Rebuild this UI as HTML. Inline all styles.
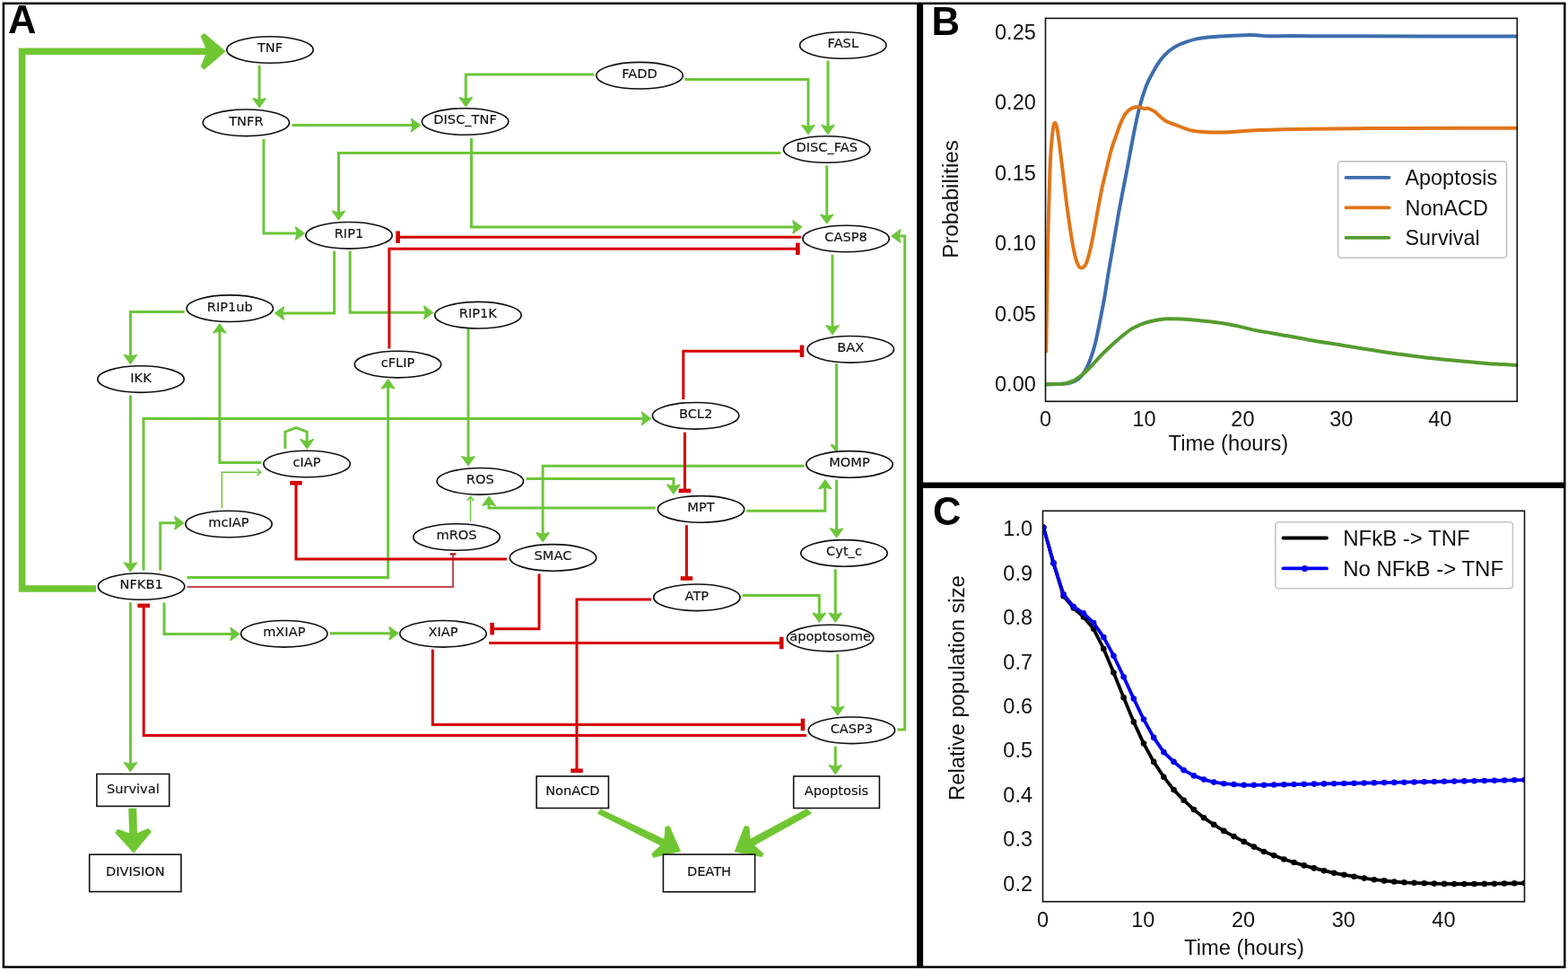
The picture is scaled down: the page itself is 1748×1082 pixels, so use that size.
<!DOCTYPE html>
<html><head><meta charset="utf-8"><title>Figure</title>
<style>
html,body{margin:0;padding:0;background:#fff;}
svg{display:block;}
.n{font-family:"DejaVu Sans","Liberation Sans",sans-serif;font-size:14.6px;fill:#111;stroke:#111;stroke-width:0.15px;text-anchor:middle;}
.tk{font-family:"Liberation Sans",Arial,sans-serif;font-size:23.5px;fill:#111;}
.pl{font-family:"Liberation Sans",Arial,sans-serif;font-size:43.5px;font-weight:bold;fill:#000;}
</style></head>
<body>
<svg width="1748" height="1082" viewBox="0 0 1748 1082">
<rect x="0" y="0" width="1748" height="1082" fill="#fff"/>
<polyline points="107,656 24.6,656 24.6,57.3 231,57.3" fill="none" stroke="#70c632" stroke-width="7.6" stroke-linejoin="miter"/>
<polygon points="251.3,57.3 227.6,37.2 223.9,40.3 229.3,53.3 229.3,61.3 223.9,74.3 227.6,77.4" fill="#70c632" stroke="#70c632" stroke-width="0.6" stroke-linejoin="round"/>
<polyline points="289.1,73 289.1,112.1" fill="none" stroke="#6cc63a" stroke-width="3" stroke-linejoin="miter" stroke-linecap="butt"/>
<polygon points="289.1,119.6 281.9,109.6 289.1,111.6 296.3,109.6" fill="#6cc63a" stroke="#6cc63a" stroke-width="1.2" stroke-linejoin="round"/>
<polyline points="325.4,139.5 460.9,139.5" fill="none" stroke="#6cc63a" stroke-width="3" stroke-linejoin="miter" stroke-linecap="butt"/>
<polygon points="468.4,139.5 458.4,146.7 460.4,139.5 458.4,132.3" fill="#6cc63a" stroke="#6cc63a" stroke-width="1.2" stroke-linejoin="round"/>
<polyline points="662.1,83.1 519.3,83.1 519.3,111.1" fill="none" stroke="#6cc63a" stroke-width="3" stroke-linejoin="miter" stroke-linecap="butt"/>
<polygon points="519.3,118.6 512.1,108.6 519.3,110.6 526.5,108.6" fill="#6cc63a" stroke="#6cc63a" stroke-width="1.2" stroke-linejoin="round"/>
<polyline points="763.3,88.4 901,88.4 901,141.9" fill="none" stroke="#6cc63a" stroke-width="3" stroke-linejoin="miter" stroke-linecap="butt"/>
<polygon points="901,149.4 893.8,139.4 901,141.4 908.2,139.4" fill="#6cc63a" stroke="#6cc63a" stroke-width="1.2" stroke-linejoin="round"/>
<polyline points="923,67.6 923,141.9" fill="none" stroke="#6cc63a" stroke-width="3" stroke-linejoin="miter" stroke-linecap="butt"/>
<polygon points="923,149.4 915.8,139.4 923,141.4 930.2,139.4" fill="#6cc63a" stroke="#6cc63a" stroke-width="1.2" stroke-linejoin="round"/>
<polyline points="870.4,170.4 377.5,170.4 377.5,237.5" fill="none" stroke="#6cc63a" stroke-width="3" stroke-linejoin="miter" stroke-linecap="butt"/>
<polygon points="377.5,245 370.3,235 377.5,237 384.7,235" fill="#6cc63a" stroke="#6cc63a" stroke-width="1.2" stroke-linejoin="round"/>
<polyline points="294,155 294,260 331.8,260" fill="none" stroke="#6cc63a" stroke-width="3" stroke-linejoin="miter" stroke-linecap="butt"/>
<polygon points="339.3,260 329.3,267.2 331.3,260 329.3,252.8" fill="#6cc63a" stroke="#6cc63a" stroke-width="1.2" stroke-linejoin="round"/>
<polyline points="525.5,153.9 525.5,253 886.3,253" fill="none" stroke="#6cc63a" stroke-width="3" stroke-linejoin="miter" stroke-linecap="butt"/>
<polygon points="893.8,253 883.8,260.2 885.8,253 883.8,245.8" fill="#6cc63a" stroke="#6cc63a" stroke-width="1.2" stroke-linejoin="round"/>
<polyline points="921.8,184.3 921.8,241.5" fill="none" stroke="#6cc63a" stroke-width="3" stroke-linejoin="miter" stroke-linecap="butt"/>
<polygon points="921.8,249 914.6,239 921.8,241 929,239" fill="#6cc63a" stroke="#6cc63a" stroke-width="1.2" stroke-linejoin="round"/>
<polyline points="372.7,279.7 372.7,349 314.1,349" fill="none" stroke="#6cc63a" stroke-width="3" stroke-linejoin="miter" stroke-linecap="butt"/>
<polygon points="306.6,349 316.6,341.8 314.6,349 316.6,356.2" fill="#6cc63a" stroke="#6cc63a" stroke-width="1.2" stroke-linejoin="round"/>
<polyline points="390.2,279.7 390.2,348.2 475.1,348.2" fill="none" stroke="#6cc63a" stroke-width="3" stroke-linejoin="miter" stroke-linecap="butt"/>
<polygon points="482.6,348.2 472.6,355.4 474.6,348.2 472.6,341" fill="#6cc63a" stroke="#6cc63a" stroke-width="1.2" stroke-linejoin="round"/>
<polyline points="205.7,347.5 145.4,347.5 145.4,397.9" fill="none" stroke="#6cc63a" stroke-width="3" stroke-linejoin="miter" stroke-linecap="butt"/>
<polygon points="145.4,405.4 138.2,395.4 145.4,397.4 152.6,395.4" fill="#6cc63a" stroke="#6cc63a" stroke-width="1.2" stroke-linejoin="round"/>
<polyline points="928,283.9 928,365.1" fill="none" stroke="#6cc63a" stroke-width="3" stroke-linejoin="miter" stroke-linecap="butt"/>
<polygon points="928,372.6 920.8,362.6 928,364.6 935.2,362.6" fill="#6cc63a" stroke="#6cc63a" stroke-width="1.2" stroke-linejoin="round"/>
<polyline points="1000.5,813.1 1008.7,813.1 1008.7,263 1001.5,263" fill="none" stroke="#6cc63a" stroke-width="3" stroke-linejoin="miter" stroke-linecap="butt"/>
<polygon points="994,263 1004,255.8 1002,263 1004,270.2" fill="#6cc63a" stroke="#6cc63a" stroke-width="1.2" stroke-linejoin="round"/>
<polyline points="145.4,440.5 145.4,629.3" fill="none" stroke="#6cc63a" stroke-width="3" stroke-linejoin="miter" stroke-linecap="butt"/>
<polygon points="145.4,636.8 138.2,626.8 145.4,628.8 152.6,626.8" fill="#6cc63a" stroke="#6cc63a" stroke-width="1.2" stroke-linejoin="round"/>
<polyline points="160,635.6 160,466.4 717.9,466.4" fill="none" stroke="#6cc63a" stroke-width="3" stroke-linejoin="miter" stroke-linecap="butt"/>
<polygon points="725.4,466.4 715.4,473.6 717.4,466.4 715.4,459.2" fill="#6cc63a" stroke="#6cc63a" stroke-width="1.2" stroke-linejoin="round"/>
<polyline points="291.4,515.5 244.9,515.5 244.9,368.5" fill="none" stroke="#6cc63a" stroke-width="3" stroke-linejoin="miter" stroke-linecap="butt"/>
<polygon points="244.9,361 252.1,371 244.9,369 237.7,371" fill="#6cc63a" stroke="#6cc63a" stroke-width="1.2" stroke-linejoin="round"/>
<polyline points="178.7,635.6 178.7,582.7 197.3,582.7" fill="none" stroke="#6cc63a" stroke-width="3" stroke-linejoin="miter" stroke-linecap="butt"/>
<polygon points="204.8,582.7 194.8,589.9 196.8,582.7 194.8,575.5" fill="#6cc63a" stroke="#6cc63a" stroke-width="1.2" stroke-linejoin="round"/>
<polyline points="208.5,643.4 432.6,643.4 432.6,430.4" fill="none" stroke="#6cc63a" stroke-width="3" stroke-linejoin="miter" stroke-linecap="butt"/>
<polygon points="432.6,422.9 439.8,432.9 432.6,430.9 425.4,432.9" fill="#6cc63a" stroke="#6cc63a" stroke-width="1.2" stroke-linejoin="round"/>
<polyline points="522,366 522,511.1" fill="none" stroke="#6cc63a" stroke-width="3" stroke-linejoin="miter" stroke-linecap="butt"/>
<polygon points="522,518.6 514.8,508.6 522,510.6 529.2,508.6" fill="#6cc63a" stroke="#6cc63a" stroke-width="1.2" stroke-linejoin="round"/>
<polyline points="586.6,533.6 750.9,533.6 750.9,542.7" fill="none" stroke="#6cc63a" stroke-width="3" stroke-linejoin="miter" stroke-linecap="butt"/>
<polygon points="750.9,550.2 743.7,540.2 750.9,542.2 758.1,540.2" fill="#6cc63a" stroke="#6cc63a" stroke-width="1.2" stroke-linejoin="round"/>
<polyline points="730.7,566 545,566 545,560.9" fill="none" stroke="#6cc63a" stroke-width="3" stroke-linejoin="miter" stroke-linecap="butt"/>
<polygon points="545,553.4 552.2,563.4 545,561.4 537.8,563.4" fill="#6cc63a" stroke="#6cc63a" stroke-width="1.2" stroke-linejoin="round"/>
<polyline points="832.3,569.2 919.8,569.2 919.8,542.3" fill="none" stroke="#6cc63a" stroke-width="3" stroke-linejoin="miter" stroke-linecap="butt"/>
<polygon points="919.8,534.8 927,544.8 919.8,542.8 912.6,544.8" fill="#6cc63a" stroke="#6cc63a" stroke-width="1.2" stroke-linejoin="round"/>
<polyline points="896.4,519.2 605.1,519.2 605.1,596.1" fill="none" stroke="#6cc63a" stroke-width="3" stroke-linejoin="miter" stroke-linecap="butt"/>
<polygon points="605.1,603.6 597.9,593.6 605.1,595.6 612.3,593.6" fill="#6cc63a" stroke="#6cc63a" stroke-width="1.2" stroke-linejoin="round"/>
<polyline points="932.6,534.6 932.6,591.3" fill="none" stroke="#6cc63a" stroke-width="3" stroke-linejoin="miter" stroke-linecap="butt"/>
<polygon points="932.6,598.8 925.4,588.8 932.6,590.8 939.8,588.8" fill="#6cc63a" stroke="#6cc63a" stroke-width="1.2" stroke-linejoin="round"/>
<polyline points="145.4,671.4 145.4,852.1" fill="none" stroke="#6cc63a" stroke-width="3" stroke-linejoin="miter" stroke-linecap="butt"/>
<polygon points="145.4,859.6 138.2,849.6 145.4,851.6 152.6,849.6" fill="#6cc63a" stroke="#6cc63a" stroke-width="1.2" stroke-linejoin="round"/>
<polyline points="183,671.4 183,706.5 259.3,706.5" fill="none" stroke="#6cc63a" stroke-width="3" stroke-linejoin="miter" stroke-linecap="butt"/>
<polygon points="266.8,706.5 256.8,713.7 258.8,706.5 256.8,699.3" fill="#6cc63a" stroke="#6cc63a" stroke-width="1.2" stroke-linejoin="round"/>
<polyline points="367.8,705.7 436.4,705.7" fill="none" stroke="#6cc63a" stroke-width="3" stroke-linejoin="miter" stroke-linecap="butt"/>
<polygon points="443.9,705.7 433.9,712.9 435.9,705.7 433.9,698.5" fill="#6cc63a" stroke="#6cc63a" stroke-width="1.2" stroke-linejoin="round"/>
<polyline points="827.5,663.5 913.3,663.5 913.3,685.7" fill="none" stroke="#6cc63a" stroke-width="3" stroke-linejoin="miter" stroke-linecap="butt"/>
<polygon points="913.3,693.2 906.1,683.2 913.3,685.2 920.5,683.2" fill="#6cc63a" stroke="#6cc63a" stroke-width="1.2" stroke-linejoin="round"/>
<polyline points="931.3,634.3 931.3,685.7" fill="none" stroke="#6cc63a" stroke-width="3" stroke-linejoin="miter" stroke-linecap="butt"/>
<polygon points="931.3,693.2 924.1,683.2 931.3,685.2 938.5,683.2" fill="#6cc63a" stroke="#6cc63a" stroke-width="1.2" stroke-linejoin="round"/>
<polyline points="933.9,728.7 933.9,789.5" fill="none" stroke="#6cc63a" stroke-width="3" stroke-linejoin="miter" stroke-linecap="butt"/>
<polygon points="933.9,797 926.7,787 933.9,789 941.1,787" fill="#6cc63a" stroke="#6cc63a" stroke-width="1.2" stroke-linejoin="round"/>
<polyline points="931.3,831.7 931.3,855" fill="none" stroke="#6cc63a" stroke-width="3" stroke-linejoin="miter" stroke-linecap="butt"/>
<polygon points="931.3,862.5 924.1,852.5 931.3,854.5 938.5,852.5" fill="#6cc63a" stroke="#6cc63a" stroke-width="1.2" stroke-linejoin="round"/>
<polyline points="317.9,500 317.9,481.2 330,476.5 342.2,481.2 342.2,493.1" fill="none" stroke="#6cc63a" stroke-width="3" stroke-linejoin="miter" stroke-linecap="butt"/>
<polygon points="342.2,499.9 334.8,489.4 342.2,492.6 349.6,489.4" fill="#6cc63a" stroke="#6cc63a" stroke-width="1.2" stroke-linejoin="round"/>
<line x1="932.6" y1="405" x2="932.6" y2="502" stroke="#6cc63a" stroke-width="3"/>
<polygon points="932.4,503 926.4,496.2 927.6,495.2 933.6,499.5" fill="#6cc63a" stroke="#6cc63a" stroke-width="1.2" stroke-linejoin="round"/>
<polyline points="247.4,566.3 247.4,526.3 290.6,526.3" fill="none" stroke="#6cc63a" stroke-width="1.5"/>
<polyline points="286.4,522.6 290.8,526.3 286.4,530" fill="none" stroke="#6cc63a" stroke-width="1.6" stroke-linejoin="miter"/>
<line x1="524.5" y1="581.1" x2="524.5" y2="553.8" stroke="#6cc63a" stroke-width="1.5"/>
<polyline points="520.7,557.9 524.5,553.5 528.3,557.9" fill="none" stroke="#6cc63a" stroke-width="1.6" stroke-linejoin="miter"/>
<polyline points="893,264.2 443.6,264.2" fill="none" stroke="#d40000" stroke-width="3" stroke-linejoin="miter" stroke-linecap="butt"/>
<rect x="441.3" y="257.45" width="4.6" height="13.5" fill="#d40000"/>
<polyline points="433.9,388.6 433.9,277.3 889.4,277.3" fill="none" stroke="#d40000" stroke-width="3" stroke-linejoin="miter" stroke-linecap="butt"/>
<rect x="887.1" y="270.55" width="4.6" height="13.5" fill="#d40000"/>
<polyline points="761.8,444.9 761.8,391.3 894,391.3" fill="none" stroke="#d40000" stroke-width="3" stroke-linejoin="miter" stroke-linecap="butt"/>
<rect x="891.7" y="384.55" width="4.6" height="13.5" fill="#d40000"/>
<polyline points="763.4,481.7 763.4,546.9" fill="none" stroke="#d40000" stroke-width="3" stroke-linejoin="miter" stroke-linecap="butt"/>
<rect x="756.65" y="544.6" width="13.5" height="4.6" fill="#d40000"/>
<polyline points="565,622.9 330,622.9 330,538.2" fill="none" stroke="#d40000" stroke-width="3" stroke-linejoin="miter" stroke-linecap="butt"/>
<rect x="323.25" y="535.9" width="13.5" height="4.6" fill="#d40000"/>
<polyline points="765.4,585.2 765.4,644.5" fill="none" stroke="#d40000" stroke-width="3" stroke-linejoin="miter" stroke-linecap="butt"/>
<rect x="758.65" y="642.2" width="13.5" height="4.6" fill="#d40000"/>
<polyline points="601,639.5 601,700.7 548.6,700.7" fill="none" stroke="#d40000" stroke-width="3" stroke-linejoin="miter" stroke-linecap="butt"/>
<rect x="546.3" y="693.95" width="4.6" height="13.5" fill="#d40000"/>
<polyline points="545.2,716.5 871.2,716.5" fill="none" stroke="#d40000" stroke-width="3" stroke-linejoin="miter" stroke-linecap="butt"/>
<rect x="868.9" y="709.75" width="4.6" height="13.5" fill="#d40000"/>
<polyline points="726,668.1 643,668.1 643,858.8" fill="none" stroke="#d40000" stroke-width="3" stroke-linejoin="miter" stroke-linecap="butt"/>
<rect x="636.25" y="856.5" width="13.5" height="4.6" fill="#d40000"/>
<polyline points="482.3,723.6 482.3,807.5 895,807.5" fill="none" stroke="#d40000" stroke-width="3" stroke-linejoin="miter" stroke-linecap="butt"/>
<rect x="892.7" y="800.75" width="4.6" height="13.5" fill="#d40000"/>
<polyline points="899,819.4 160.2,819.4 160.2,674.9" fill="none" stroke="#d40000" stroke-width="3" stroke-linejoin="miter" stroke-linecap="butt"/>
<rect x="153.45" y="672.6" width="13.5" height="4.6" fill="#d40000"/>
<polyline points="208.5,653.9 505,653.9 505,617.4" fill="none" stroke="#b0101a" stroke-width="1.5" stroke-linejoin="miter" stroke-linecap="butt"/>
<rect x="501.7" y="616.25" width="6.6" height="2.3" fill="#b0101a"/>
<polygon points="143.6,901 151.9,901 152.7,928.6 165.5,923.3 168.5,926.9 149.1,950.4 128.6,928 131.4,924.1 144.4,928.8" fill="#70c632" stroke="#70c632" stroke-width="0.6" stroke-linejoin="round"/>
<polygon points="669.6,901.8 740.6,935.3 741.8,921.4 746.2,920.5 758.6,948.6 728.6,955.4 726.4,951.6 736.5,942.2 666.2,906.4" fill="#70c632" stroke="#70c632" stroke-width="0.6" stroke-linejoin="round"/>
<polygon points="899.1,901.6 836.4,935 834.9,921.1 830.1,920.5 819,948.9 849.6,954.8 851.2,951.3 840.8,941.9 905,906.3" fill="#70c632" stroke="#70c632" stroke-width="0.6" stroke-linejoin="round"/>
<ellipse cx="301" cy="55.5" rx="48.2" ry="14.8" fill="#fff" stroke="#111111" stroke-width="1.6"/>
<text x="301" y="58.4" class="n">TNF</text>
<ellipse cx="274.4" cy="136.8" rx="48.2" ry="14.8" fill="#fff" stroke="#111111" stroke-width="1.6"/>
<text x="274.4" y="139.7" class="n">TNFR</text>
<ellipse cx="518.6" cy="135.5" rx="48.2" ry="14.8" fill="#fff" stroke="#111111" stroke-width="1.6"/>
<text x="518.6" y="138.4" class="n">DISC_TNF</text>
<ellipse cx="713" cy="84.2" rx="48.2" ry="14.8" fill="#fff" stroke="#111111" stroke-width="1.6"/>
<text x="713" y="87.1" class="n">FADD</text>
<ellipse cx="939.8" cy="50.5" rx="48.2" ry="14.8" fill="#fff" stroke="#111111" stroke-width="1.6"/>
<text x="939.8" y="53.4" class="n">FASL</text>
<ellipse cx="921.7" cy="166.5" rx="48.2" ry="14.8" fill="#fff" stroke="#111111" stroke-width="1.6"/>
<text x="921.7" y="169.4" class="n">DISC_FAS</text>
<ellipse cx="389" cy="262.3" rx="48.2" ry="14.8" fill="#fff" stroke="#111111" stroke-width="1.6"/>
<text x="389" y="265.2" class="n">RIP1</text>
<ellipse cx="943.1" cy="266" rx="48.2" ry="14.8" fill="#fff" stroke="#111111" stroke-width="1.6"/>
<text x="943.1" y="268.9" class="n">CASP8</text>
<ellipse cx="256.3" cy="343.7" rx="48.2" ry="14.8" fill="#fff" stroke="#111111" stroke-width="1.6"/>
<text x="256.3" y="346.6" class="n">RIP1ub</text>
<ellipse cx="532.9" cy="351.2" rx="48.2" ry="14.8" fill="#fff" stroke="#111111" stroke-width="1.6"/>
<text x="532.9" y="354.1" class="n">RIP1K</text>
<ellipse cx="948.3" cy="389.3" rx="48.2" ry="14.8" fill="#fff" stroke="#111111" stroke-width="1.6"/>
<text x="948.3" y="392.2" class="n">BAX</text>
<ellipse cx="443.5" cy="406.1" rx="48.2" ry="14.8" fill="#fff" stroke="#111111" stroke-width="1.6"/>
<text x="443.5" y="409" class="n">cFLIP</text>
<ellipse cx="157" cy="422.6" rx="48.2" ry="14.8" fill="#fff" stroke="#111111" stroke-width="1.6"/>
<text x="157" y="425.5" class="n">IKK</text>
<ellipse cx="775.6" cy="463.3" rx="48.2" ry="14.8" fill="#fff" stroke="#111111" stroke-width="1.6"/>
<text x="775.6" y="466.2" class="n">BCL2</text>
<ellipse cx="342.1" cy="517" rx="48.2" ry="14.8" fill="#fff" stroke="#111111" stroke-width="1.6"/>
<text x="342.1" y="519.9" class="n">cIAP</text>
<ellipse cx="535.3" cy="536.3" rx="48.2" ry="14.8" fill="#fff" stroke="#111111" stroke-width="1.6"/>
<text x="535.3" y="539.2" class="n">ROS</text>
<ellipse cx="947" cy="517.4" rx="48.2" ry="14.8" fill="#fff" stroke="#111111" stroke-width="1.6"/>
<text x="947" y="520.3" class="n">MOMP</text>
<ellipse cx="781.5" cy="567.4" rx="48.2" ry="14.8" fill="#fff" stroke="#111111" stroke-width="1.6"/>
<text x="781.5" y="570.3" class="n">MPT</text>
<ellipse cx="255" cy="584" rx="48.2" ry="14.8" fill="#fff" stroke="#111111" stroke-width="1.6"/>
<text x="255" y="586.9" class="n">mcIAP</text>
<ellipse cx="509" cy="598.5" rx="48.2" ry="14.8" fill="#fff" stroke="#111111" stroke-width="1.6"/>
<text x="509" y="601.4" class="n">mROS</text>
<ellipse cx="616.5" cy="621.4" rx="48.2" ry="14.8" fill="#fff" stroke="#111111" stroke-width="1.6"/>
<text x="616.5" y="624.3" class="n">SMAC</text>
<ellipse cx="941" cy="616.4" rx="48.2" ry="14.8" fill="#fff" stroke="#111111" stroke-width="1.6"/>
<text x="941" y="619.3" class="n">Cyt_c</text>
<ellipse cx="157.6" cy="653.5" rx="48.2" ry="14.8" fill="#fff" stroke="#111111" stroke-width="1.6"/>
<text x="157.6" y="656.4" class="n">NFKB1</text>
<ellipse cx="776.9" cy="665.8" rx="48.2" ry="14.8" fill="#fff" stroke="#111111" stroke-width="1.6"/>
<text x="776.9" y="668.7" class="n">ATP</text>
<ellipse cx="316.8" cy="706.3" rx="48.2" ry="14.8" fill="#fff" stroke="#111111" stroke-width="1.6"/>
<text x="316.8" y="709.2" class="n">mXIAP</text>
<ellipse cx="494" cy="706.3" rx="48.2" ry="14.8" fill="#fff" stroke="#111111" stroke-width="1.6"/>
<text x="494" y="709.2" class="n">XIAP</text>
<ellipse cx="925.6" cy="711.1" rx="48.2" ry="14.8" fill="#fff" stroke="#111111" stroke-width="1.6"/>
<text x="925.6" y="714" class="n">apoptosome</text>
<ellipse cx="949.4" cy="813.8" rx="48.2" ry="14.8" fill="#fff" stroke="#111111" stroke-width="1.6"/>
<text x="949.4" y="816.7" class="n">CASP3</text>
<rect x="107.9" y="862.5" width="80.8" height="35.9" fill="#fff" stroke="#111111" stroke-width="1.6"/>
<text x="148.3" y="884.3" class="n">Survival</text>
<rect x="99.7" y="952.2" width="102.2" height="41.4" fill="#fff" stroke="#111111" stroke-width="1.6"/>
<text x="150.8" y="976.3" class="n">DIVISION</text>
<rect x="598.1" y="865" width="80.3" height="35.5" fill="#fff" stroke="#111111" stroke-width="1.6"/>
<text x="638.25" y="886.4" class="n">NonACD</text>
<rect x="884.7" y="865" width="95.7" height="35.5" fill="#fff" stroke="#111111" stroke-width="1.6"/>
<text x="932.55" y="886.4" class="n">Apoptosis</text>
<rect x="739.4" y="952.1" width="102.2" height="41.7" fill="#fff" stroke="#111111" stroke-width="1.6"/>
<text x="790.5" y="976.2" class="n">DEATH</text>
<defs><clipPath id="cb"><rect x="1165.5" y="20" width="526" height="427"/></clipPath><clipPath id="cc"><rect x="1162.5" y="569" width="537.5" height="436"/></clipPath></defs>
<g clip-path="url(#cb)" fill="none" stroke-width="4" stroke-linejoin="round" stroke-linecap="round">
<path d="M1165.8,428.2 C1167.83,428.17 1174.57,428.1 1178,428 C1181.43,427.9 1183.9,427.85 1186.4,427.6 C1188.9,427.35 1190.62,427.23 1193,426.5 C1195.38,425.77 1198.53,424.53 1200.7,423.2 C1202.87,421.87 1204.32,420.5 1206,418.5 C1207.68,416.5 1209.13,414.45 1210.8,411.2 C1212.47,407.95 1214.3,403.75 1216,399 C1217.7,394.25 1219.33,389.37 1221,382.7 C1222.67,376.03 1224.3,367.47 1226,359 C1227.7,350.53 1229.53,341.4 1231.2,331.9 C1232.87,322.4 1234.3,312.18 1236,302 C1237.7,291.82 1239.67,280.97 1241.4,270.8 C1243.13,260.63 1244.72,250.47 1246.4,241 C1248.08,231.53 1249.63,223.72 1251.5,214 C1253.37,204.28 1255.6,193.2 1257.6,182.7 C1259.6,172.2 1261.47,161.17 1263.5,151 C1265.53,140.83 1267.38,130.98 1269.8,121.7 C1272.22,112.42 1275.28,102.42 1278,95.3 C1280.72,88.18 1283.43,83.8 1286.1,79 C1288.77,74.2 1291.28,70.08 1294,66.5 C1296.72,62.92 1299.4,60.08 1302.4,57.5 C1305.4,54.92 1308.62,52.82 1312,51 C1315.38,49.18 1319.03,47.87 1322.7,46.6 C1326.37,45.33 1329.93,44.27 1334,43.4 C1338.07,42.53 1341.1,41.97 1347.1,41.4 C1353.1,40.83 1362.2,40.42 1370,40 C1377.8,39.58 1388.23,38.97 1393.9,38.9 C1399.57,38.83 1400.62,39.37 1404,39.6 C1407.38,39.83 1408.87,40.22 1414.2,40.3 C1419.53,40.38 1428.37,40.12 1436,40.1 C1443.63,40.08 1446,40.17 1460,40.2 C1474,40.23 1496.67,40.25 1520,40.3 C1543.33,40.35 1571.5,40.45 1600,40.5 C1628.5,40.55 1675.83,40.58 1691,40.6" stroke="#3e6dae"/>
<path d="M1166.2,391.5 C1166.4,379.5 1167.07,339.75 1167.4,319.5 C1167.73,299.25 1167.9,284.77 1168.2,270 C1168.5,255.23 1168.72,246.67 1169.2,230.9 C1169.68,215.13 1170.32,189.88 1171.1,175.4 C1171.88,160.92 1173.03,150.4 1173.9,144 C1174.77,137.6 1175.42,136.42 1176.3,137 C1177.18,137.58 1177.92,139.55 1179.2,147.5 C1180.48,155.45 1182.27,170.8 1184,184.7 C1185.73,198.6 1187.6,216.13 1189.6,230.9 C1191.6,245.67 1194.17,263.07 1196,273.3 C1197.83,283.53 1199.07,288.08 1200.6,292.3 C1202.13,296.52 1203.45,298.48 1205.2,298.6 C1206.95,298.72 1209.2,297.32 1211.1,293 C1213,288.68 1214.75,281.03 1216.6,272.7 C1218.45,264.37 1220.35,252.87 1222.2,243 C1224.05,233.13 1225.85,222.42 1227.7,213.5 C1229.55,204.58 1231.45,197.2 1233.3,189.5 C1235.15,181.8 1236.95,173.77 1238.8,167.3 C1240.65,160.83 1242.55,155.93 1244.4,150.7 C1246.25,145.47 1248.05,140.07 1249.9,135.9 C1251.75,131.73 1253.35,128.32 1255.5,125.7 C1257.65,123.08 1260.35,121.28 1262.8,120.2 C1265.25,119.12 1268.03,119.02 1270.2,119.2 C1272.37,119.38 1274.25,121.07 1275.8,121.3 C1277.35,121.53 1277.65,120.12 1279.5,120.6 C1281.35,121.08 1284.65,122.72 1286.9,124.2 C1289.15,125.68 1290.82,127.7 1293,129.5 C1295.18,131.3 1296.5,133.17 1300,135 C1303.5,136.83 1309.53,138.82 1314,140.5 C1318.47,142.18 1321.97,144 1326.8,145.1 C1331.63,146.2 1336.9,146.7 1343,147.1 C1349.1,147.5 1353.23,147.83 1363.4,147.5 C1373.57,147.17 1387.9,145.73 1404,145.1 C1420.1,144.47 1437.33,144.05 1460,143.7 C1482.67,143.35 1513.33,143.15 1540,143 C1566.67,142.85 1594.83,142.85 1620,142.8 C1645.17,142.75 1679.17,142.72 1691,142.7" stroke="#e07518"/>
<path d="M1165.8,428.2 C1167.5,428.17 1172.57,428.1 1176,428 C1179.43,427.9 1182.97,428.2 1186.4,427.6 C1189.83,427 1193.2,426.12 1196.6,424.4 C1200,422.68 1203.9,419.62 1206.8,417.3 C1209.7,414.98 1211.63,412.88 1214,410.5 C1216.37,408.12 1218.17,406 1221,403 C1223.83,400 1227.6,395.88 1231,392.5 C1234.4,389.12 1237.98,385.78 1241.4,382.7 C1244.82,379.62 1248.12,376.72 1251.5,374 C1254.88,371.28 1258.28,368.48 1261.7,366.4 C1265.12,364.32 1268.62,362.85 1272,361.5 C1275.38,360.15 1278.67,359.17 1282,358.3 C1285.33,357.43 1288.6,356.8 1292,356.3 C1295.4,355.8 1298.23,355.42 1302.4,355.3 C1306.57,355.18 1311.92,355.37 1317,355.6 C1322.08,355.83 1327.73,356.25 1332.9,356.7 C1338.07,357.15 1342.92,357.7 1348,358.3 C1353.08,358.9 1358.07,359.45 1363.4,360.3 C1368.73,361.15 1373.9,362.1 1380,363.4 C1386.1,364.7 1390.77,366.28 1400,368.1 C1409.23,369.92 1425.07,372.45 1435.4,374.3 C1445.73,376.15 1452.75,377.62 1462,379.2 C1471.25,380.78 1481.57,382.28 1490.9,383.8 C1500.23,385.32 1508.77,386.82 1518,388.3 C1527.23,389.78 1536.97,391.35 1546.3,392.7 C1555.63,394.05 1564.75,395.22 1574,396.4 C1583.25,397.58 1592.47,398.77 1601.8,399.8 C1611.13,400.83 1620.77,401.75 1630,402.6 C1639.23,403.45 1649.7,404.33 1657.2,404.9 C1664.7,405.47 1669.45,405.67 1675,406 C1680.55,406.33 1687.92,406.75 1690.5,406.9" stroke="#559b2e"/>
</g>
<rect x="1165.5" y="20.4" width="525.8" height="426.9" fill="none" stroke="#111" stroke-width="1.6"/>
<text x="1154.8" y="436.3" class="tk" text-anchor="end">0.00</text>
<text x="1154.8" y="357.8" class="tk" text-anchor="end">0.05</text>
<text x="1154.8" y="279.3" class="tk" text-anchor="end">0.10</text>
<text x="1154.8" y="200.8" class="tk" text-anchor="end">0.15</text>
<text x="1154.8" y="122.3" class="tk" text-anchor="end">0.20</text>
<text x="1154.8" y="43.8" class="tk" text-anchor="end">0.25</text>
<text x="1165.6" y="475.3" class="tk" text-anchor="middle">0</text>
<text x="1275.5" y="475.3" class="tk" text-anchor="middle">10</text>
<text x="1385.4" y="475.3" class="tk" text-anchor="middle">20</text>
<text x="1495.3" y="475.3" class="tk" text-anchor="middle">30</text>
<text x="1605.2" y="475.3" class="tk" text-anchor="middle">40</text>
<text x="1369.4" y="501.8" class="tk" text-anchor="middle" textLength="133.8" lengthAdjust="spacingAndGlyphs">Time (hours)</text>
<text transform="translate(1068,222) rotate(-90)" class="tk" text-anchor="middle" textLength="131.6" lengthAdjust="spacingAndGlyphs">Probabilities</text>
<rect x="1491.6" y="179.9" width="188" height="107.3" rx="3.5" fill="#fff" fill-opacity="0.8" stroke="#c4c4c4" stroke-width="1.6"/>
<line x1="1500.5" y1="197.9" x2="1548.5" y2="197.9" stroke="#3e6dae" stroke-width="3.8" stroke-linecap="round"/>
<text x="1566.5" y="206" class="tk" style="font-size:23.4px">Apoptosis</text>
<line x1="1500.5" y1="231.4" x2="1548.5" y2="231.4" stroke="#e07518" stroke-width="3.8" stroke-linecap="round"/>
<text x="1566.5" y="239.5" class="tk" style="font-size:23.4px">NonACD</text>
<line x1="1500.5" y1="264.8" x2="1548.5" y2="264.8" stroke="#559b2e" stroke-width="3.8" stroke-linecap="round"/>
<text x="1566.5" y="272.9" class="tk" style="font-size:23.4px">Survival</text>
<g clip-path="url(#cc)">
<polyline points="1163.3,587.7 1174.47,627.6 1185.64,664.2 1196.81,677.5 1207.98,687.5 1219.15,700.8 1230.32,723 1241.49,749.6 1252.66,777.3 1263.83,804.4 1275,828.6 1286.17,848.9 1297.34,865.8 1308.51,880.1 1319.68,891.7 1330.85,902.1 1342.02,911.3 1353.19,918.9 1364.36,925.9 1375.53,932.1 1386.7,937.9 1397.87,943.6 1409.04,949 1420.21,953.3 1431.38,957.5 1442.55,961 1453.72,964.4 1464.89,967.4 1476.06,970.2 1487.23,972.8 1498.4,974.8 1509.57,976.7 1520.74,978.6 1531.91,980.2 1543.08,981.4 1554.25,982.5 1565.42,983.3 1576.59,983.8 1587.76,984.2 1598.93,984.6 1610.1,984.9 1621.27,985 1632.44,985 1643.61,985 1654.78,984.9 1665.95,984.7 1677.12,984.5 1688.29,984.3 1699.46,984.1" fill="none" stroke="#000" stroke-width="3.8" stroke-linejoin="round"/>
<circle cx="1163.3" cy="587.7" r="3.3" fill="#000"/>
<circle cx="1174.47" cy="627.6" r="3.3" fill="#000"/>
<circle cx="1185.64" cy="664.2" r="3.3" fill="#000"/>
<circle cx="1196.81" cy="677.5" r="3.3" fill="#000"/>
<circle cx="1207.98" cy="687.5" r="3.3" fill="#000"/>
<circle cx="1219.15" cy="700.8" r="3.3" fill="#000"/>
<circle cx="1230.32" cy="723" r="3.3" fill="#000"/>
<circle cx="1241.49" cy="749.6" r="3.3" fill="#000"/>
<circle cx="1252.66" cy="777.3" r="3.3" fill="#000"/>
<circle cx="1263.83" cy="804.4" r="3.3" fill="#000"/>
<circle cx="1275" cy="828.6" r="3.3" fill="#000"/>
<circle cx="1286.17" cy="848.9" r="3.3" fill="#000"/>
<circle cx="1297.34" cy="865.8" r="3.3" fill="#000"/>
<circle cx="1308.51" cy="880.1" r="3.3" fill="#000"/>
<circle cx="1319.68" cy="891.7" r="3.3" fill="#000"/>
<circle cx="1330.85" cy="902.1" r="3.3" fill="#000"/>
<circle cx="1342.02" cy="911.3" r="3.3" fill="#000"/>
<circle cx="1353.19" cy="918.9" r="3.3" fill="#000"/>
<circle cx="1364.36" cy="925.9" r="3.3" fill="#000"/>
<circle cx="1375.53" cy="932.1" r="3.3" fill="#000"/>
<circle cx="1386.7" cy="937.9" r="3.3" fill="#000"/>
<circle cx="1397.87" cy="943.6" r="3.3" fill="#000"/>
<circle cx="1409.04" cy="949" r="3.3" fill="#000"/>
<circle cx="1420.21" cy="953.3" r="3.3" fill="#000"/>
<circle cx="1431.38" cy="957.5" r="3.3" fill="#000"/>
<circle cx="1442.55" cy="961" r="3.3" fill="#000"/>
<circle cx="1453.72" cy="964.4" r="3.3" fill="#000"/>
<circle cx="1464.89" cy="967.4" r="3.3" fill="#000"/>
<circle cx="1476.06" cy="970.2" r="3.3" fill="#000"/>
<circle cx="1487.23" cy="972.8" r="3.3" fill="#000"/>
<circle cx="1498.4" cy="974.8" r="3.3" fill="#000"/>
<circle cx="1509.57" cy="976.7" r="3.3" fill="#000"/>
<circle cx="1520.74" cy="978.6" r="3.3" fill="#000"/>
<circle cx="1531.91" cy="980.2" r="3.3" fill="#000"/>
<circle cx="1543.08" cy="981.4" r="3.3" fill="#000"/>
<circle cx="1554.25" cy="982.5" r="3.3" fill="#000"/>
<circle cx="1565.42" cy="983.3" r="3.3" fill="#000"/>
<circle cx="1576.59" cy="983.8" r="3.3" fill="#000"/>
<circle cx="1587.76" cy="984.2" r="3.3" fill="#000"/>
<circle cx="1598.93" cy="984.6" r="3.3" fill="#000"/>
<circle cx="1610.1" cy="984.9" r="3.3" fill="#000"/>
<circle cx="1621.27" cy="985" r="3.3" fill="#000"/>
<circle cx="1632.44" cy="985" r="3.3" fill="#000"/>
<circle cx="1643.61" cy="985" r="3.3" fill="#000"/>
<circle cx="1654.78" cy="984.9" r="3.3" fill="#000"/>
<circle cx="1665.95" cy="984.7" r="3.3" fill="#000"/>
<circle cx="1677.12" cy="984.5" r="3.3" fill="#000"/>
<circle cx="1688.29" cy="984.3" r="3.3" fill="#000"/>
<circle cx="1699.46" cy="984.1" r="3.3" fill="#000"/>
<polyline points="1163.3,587.7 1174.47,627.6 1185.64,662.4 1196.81,676 1207.98,683.3 1219.15,694.1 1230.32,710.1 1241.49,730.7 1252.66,754.2 1263.83,778.6 1275,801.6 1286.17,821.9 1297.34,838.1 1308.51,848.9 1319.68,858.2 1330.85,864.4 1342.02,868.6 1353.19,871.6 1364.36,873.2 1375.53,874.1 1386.7,874.8 1397.87,874.8 1409.04,874.7 1420.21,874.48 1431.38,874.27 1442.55,874.05 1453.72,873.84 1464.89,873.62 1476.06,873.41 1487.23,873.19 1498.4,872.98 1509.57,872.76 1520.74,872.55 1531.91,872.33 1543.08,872.12 1554.25,871.9 1565.42,871.68 1576.59,871.47 1587.76,871.25 1598.93,871.04 1610.1,870.82 1621.27,870.61 1632.44,870.39 1643.61,870.18 1654.78,869.96 1665.95,869.75 1677.12,869.53 1688.29,869.32 1699.46,869.1" fill="none" stroke="#0000ee" stroke-width="3.8" stroke-linejoin="round"/>
<circle cx="1163.3" cy="587.7" r="3.3" fill="#0000ee"/>
<circle cx="1174.47" cy="627.6" r="3.3" fill="#0000ee"/>
<circle cx="1185.64" cy="662.4" r="3.3" fill="#0000ee"/>
<circle cx="1196.81" cy="676" r="3.3" fill="#0000ee"/>
<circle cx="1207.98" cy="683.3" r="3.3" fill="#0000ee"/>
<circle cx="1219.15" cy="694.1" r="3.3" fill="#0000ee"/>
<circle cx="1230.32" cy="710.1" r="3.3" fill="#0000ee"/>
<circle cx="1241.49" cy="730.7" r="3.3" fill="#0000ee"/>
<circle cx="1252.66" cy="754.2" r="3.3" fill="#0000ee"/>
<circle cx="1263.83" cy="778.6" r="3.3" fill="#0000ee"/>
<circle cx="1275" cy="801.6" r="3.3" fill="#0000ee"/>
<circle cx="1286.17" cy="821.9" r="3.3" fill="#0000ee"/>
<circle cx="1297.34" cy="838.1" r="3.3" fill="#0000ee"/>
<circle cx="1308.51" cy="848.9" r="3.3" fill="#0000ee"/>
<circle cx="1319.68" cy="858.2" r="3.3" fill="#0000ee"/>
<circle cx="1330.85" cy="864.4" r="3.3" fill="#0000ee"/>
<circle cx="1342.02" cy="868.6" r="3.3" fill="#0000ee"/>
<circle cx="1353.19" cy="871.6" r="3.3" fill="#0000ee"/>
<circle cx="1364.36" cy="873.2" r="3.3" fill="#0000ee"/>
<circle cx="1375.53" cy="874.1" r="3.3" fill="#0000ee"/>
<circle cx="1386.7" cy="874.8" r="3.3" fill="#0000ee"/>
<circle cx="1397.87" cy="874.8" r="3.3" fill="#0000ee"/>
<circle cx="1409.04" cy="874.7" r="3.3" fill="#0000ee"/>
<circle cx="1420.21" cy="874.48" r="3.3" fill="#0000ee"/>
<circle cx="1431.38" cy="874.27" r="3.3" fill="#0000ee"/>
<circle cx="1442.55" cy="874.05" r="3.3" fill="#0000ee"/>
<circle cx="1453.72" cy="873.84" r="3.3" fill="#0000ee"/>
<circle cx="1464.89" cy="873.62" r="3.3" fill="#0000ee"/>
<circle cx="1476.06" cy="873.41" r="3.3" fill="#0000ee"/>
<circle cx="1487.23" cy="873.19" r="3.3" fill="#0000ee"/>
<circle cx="1498.4" cy="872.98" r="3.3" fill="#0000ee"/>
<circle cx="1509.57" cy="872.76" r="3.3" fill="#0000ee"/>
<circle cx="1520.74" cy="872.55" r="3.3" fill="#0000ee"/>
<circle cx="1531.91" cy="872.33" r="3.3" fill="#0000ee"/>
<circle cx="1543.08" cy="872.12" r="3.3" fill="#0000ee"/>
<circle cx="1554.25" cy="871.9" r="3.3" fill="#0000ee"/>
<circle cx="1565.42" cy="871.68" r="3.3" fill="#0000ee"/>
<circle cx="1576.59" cy="871.47" r="3.3" fill="#0000ee"/>
<circle cx="1587.76" cy="871.25" r="3.3" fill="#0000ee"/>
<circle cx="1598.93" cy="871.04" r="3.3" fill="#0000ee"/>
<circle cx="1610.1" cy="870.82" r="3.3" fill="#0000ee"/>
<circle cx="1621.27" cy="870.61" r="3.3" fill="#0000ee"/>
<circle cx="1632.44" cy="870.39" r="3.3" fill="#0000ee"/>
<circle cx="1643.61" cy="870.18" r="3.3" fill="#0000ee"/>
<circle cx="1654.78" cy="869.96" r="3.3" fill="#0000ee"/>
<circle cx="1665.95" cy="869.75" r="3.3" fill="#0000ee"/>
<circle cx="1677.12" cy="869.53" r="3.3" fill="#0000ee"/>
<circle cx="1688.29" cy="869.32" r="3.3" fill="#0000ee"/>
<circle cx="1699.46" cy="869.1" r="3.3" fill="#0000ee"/>
</g>
<rect x="1162.5" y="569.3" width="537" height="435.4" fill="none" stroke="#111" stroke-width="1.6"/>
<text x="1151" y="597.3" class="tk" text-anchor="end">1.0</text>
<text x="1151" y="646.7" class="tk" text-anchor="end">0.9</text>
<text x="1151" y="696.1" class="tk" text-anchor="end">0.8</text>
<text x="1151" y="745.5" class="tk" text-anchor="end">0.7</text>
<text x="1151" y="794.9" class="tk" text-anchor="end">0.6</text>
<text x="1151" y="844.3" class="tk" text-anchor="end">0.5</text>
<text x="1151" y="893.7" class="tk" text-anchor="end">0.4</text>
<text x="1151" y="943.1" class="tk" text-anchor="end">0.3</text>
<text x="1151" y="992.5" class="tk" text-anchor="end">0.2</text>
<text x="1162.6" y="1032.9" class="tk" text-anchor="middle">0</text>
<text x="1274.3" y="1032.9" class="tk" text-anchor="middle">10</text>
<text x="1386" y="1032.9" class="tk" text-anchor="middle">20</text>
<text x="1497.7" y="1032.9" class="tk" text-anchor="middle">30</text>
<text x="1609.4" y="1032.9" class="tk" text-anchor="middle">40</text>
<text x="1387" y="1064.3" class="tk" text-anchor="middle" textLength="133.8" lengthAdjust="spacingAndGlyphs">Time (hours)</text>
<text transform="translate(1075,766.6) rotate(-90)" class="tk" text-anchor="middle" textLength="250.6" lengthAdjust="spacingAndGlyphs">Relative population size</text>
<rect x="1421.8" y="581.8" width="264.7" height="74" rx="3.5" fill="#fff" fill-opacity="0.8" stroke="#c4c4c4" stroke-width="1.6"/>
<line x1="1430.5" y1="599.5" x2="1479" y2="599.5" stroke="#000" stroke-width="3.8" stroke-linecap="round"/>
<text x="1497.2" y="607.8" class="tk" style="font-size:24px">NFkB -&gt; TNF</text>
<line x1="1430.5" y1="633.4" x2="1479" y2="633.4" stroke="#0000ee" stroke-width="3.8" stroke-linecap="round"/>
<circle cx="1454.5" cy="633.4" r="3.5" fill="#0000ee"/>
<text x="1497.2" y="642.2" class="tk" style="font-size:24px">No NFkB -&gt; TNF</text>
<rect x="3.9" y="3.8" width="1740.4" height="1073.8" fill="none" stroke="#000" stroke-width="2.5"/>
<line x1="1025.6" y1="3" x2="1025.6" y2="1078" stroke="#000" stroke-width="7"/>
<line x1="1029" y1="540.8" x2="1745" y2="540.8" stroke="#000" stroke-width="6.6"/>
<text x="9" y="37" class="pl">A</text>
<text x="1038.5" y="38.9" class="pl">B</text>
<text x="1040" y="585" class="pl">C</text>
</svg>
</body></html>
